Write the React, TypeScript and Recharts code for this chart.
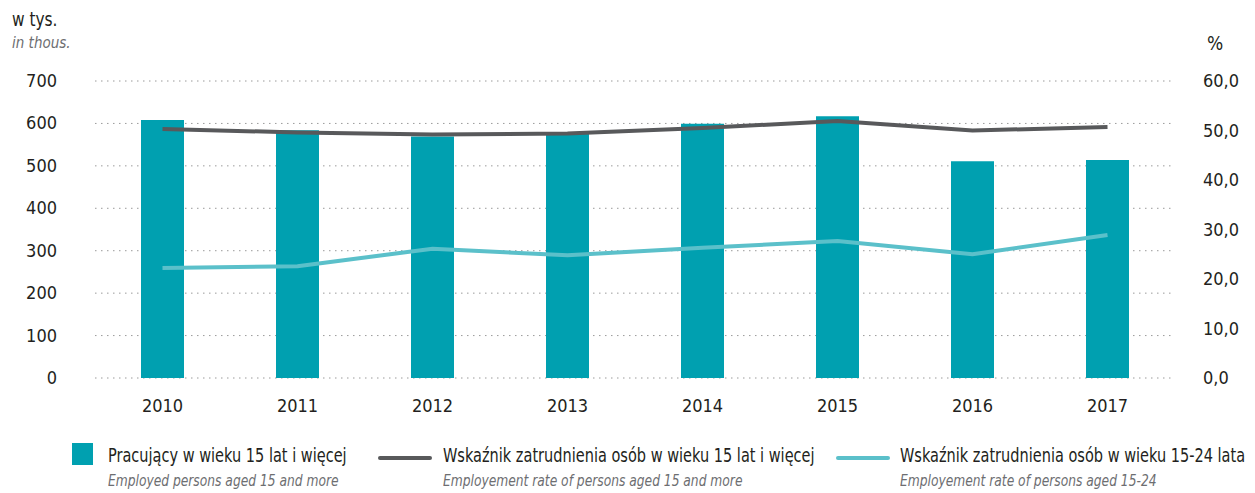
import { ComposedChart, Bar, Line, XAxis, YAxis, CartesianGrid } from 'recharts';

const years = ['2010', '2011', '2012', '2013', '2014', '2015', '2016', '2017'];
const employed = [608, 584, 569, 577, 599, 617, 511, 514];
const rate15plus = [50.3, 49.6, 49.2, 49.4, 50.5, 51.9, 50.0, 50.7];
const rate15to24 = [22.2, 22.6, 26.1, 24.8, 26.3, 27.7, 25.0, 28.9];
const leftTicks = [0, 100, 200, 300, 400, 500, 600, 700];
const rightTicks = [0, 10, 20, 30, 40, 50, 60];

const data = years.map((y, i) => ({
    year: y,
    employed: employed[i],
    rate15plus: rate15plus[i],
    rate15to24: rate15to24[i],
}));

const FONT = "'Liberation Sans Narrow', 'DejaVu Sans Condensed', sans-serif";
const TEAL = '#00a0b0';
const DARK = '#58595b';
const LIGHT = '#5bc0ca';

const LeftTick = ({ y, payload }: any) => (
    <text x={57} y={y + 6} textAnchor="end" fontSize={18} fill="#231f20" fontFamily={FONT}>
        {payload.value}
    </text>
);

const RightTick = ({ y, payload }: any) => (
    <text x={1203} y={y + 6} textAnchor="start" fontSize={18} fill="#231f20" fontFamily={FONT}>
        {payload.value.toFixed(1).replace('.', ',')}
    </text>
);

const BottomTick = ({ x, payload }: any) => (
    <text x={x} y={412} textAnchor="middle" fontSize={18} fill="#231f20" fontFamily={FONT}>
        {payload.value}
    </text>
);

const legendItems = [
    { kind: 'bar', color: TEAL, left: 72, textLeft: 108, pl: 'Pracujący w wieku 15 lat i więcej', en: 'Employed persons aged 15 and more' },
    { kind: 'line', color: DARK, left: 378, textLeft: 443, pl: 'Wskaźnik zatrudnienia osób w wieku 15 lat i więcej', en: 'Employement rate of persons aged 15 and more' },
    { kind: 'line', color: LIGHT, left: 836, textLeft: 900, pl: 'Wskaźnik zatrudnienia osób w wieku 15-24 lata', en: 'Employement rate of persons aged 15-24' },
];

export default function App() {
    return (
        <div style={{ position: 'absolute', left: 0, top: 0, width: 1255, height: 493, background: '#fff', fontFamily: FONT }}>
            <div style={{ position: 'absolute', left: 12, top: 8, fontSize: 19, color: '#231f20', transform: 'scaleX(0.9)', transformOrigin: 'left' }}>w tys.</div>
            <div style={{ position: 'absolute', left: 12, top: 34, fontSize: 15, color: '#6d6e71', fontStyle: 'italic' }}>in thous.</div>
            <div style={{ position: 'absolute', left: 1207, top: 32, fontSize: 19, color: '#231f20' }}>%</div>
            <ComposedChart
                width={1255}
                height={420}
                data={data}
                margin={{ top: 81, right: 0, bottom: 0, left: 0 }}
                barCategoryGap={0}
            >
                <CartesianGrid vertical={false} stroke="#9a9a9a" strokeDasharray="1.5 4.5" yAxisId="left" />
                <XAxis dataKey="year" axisLine={false} tickLine={false} height={42} tick={<BottomTick />} interval={0} />
                <YAxis yAxisId="left" orientation="left" width={95} domain={[0, 700]} ticks={leftTicks} axisLine={false} tickLine={false} tick={<LeftTick />} />
                <YAxis yAxisId="right" orientation="right" width={80} domain={[0, 60]} ticks={rightTicks} axisLine={false} tickLine={false} tick={<RightTick />} />
                <Bar yAxisId="left" dataKey="employed" fill={TEAL} barSize={43} isAnimationActive={false} />
                <Line yAxisId="right" dataKey="rate15plus" stroke={DARK} strokeWidth={4} dot={false} type="linear" isAnimationActive={false} />
                <Line yAxisId="right" dataKey="rate15to24" stroke={LIGHT} strokeWidth={4} dot={false} type="linear" isAnimationActive={false} />
            </ComposedChart>
            {legendItems.map((it, i) => (
                <div key={i}>
                    {it.kind === 'bar' ? (
                        <div style={{ position: 'absolute', left: it.left, top: 443, width: 21, height: 22, background: it.color }} />
                    ) : (
                        <div style={{ position: 'absolute', left: it.left, top: 456, width: 54, height: 4, borderRadius: 2, background: it.color }} />
                    )}
                    <div style={{ position: 'absolute', left: it.textLeft, top: 444, fontSize: 19, color: '#231f20', whiteSpace: 'nowrap', transform: 'scaleX(0.85)', transformOrigin: 'left' }}>{it.pl}</div>
                    <div style={{ position: 'absolute', left: it.textLeft, top: 472, fontSize: 15, color: '#6d6e71', fontStyle: 'italic', whiteSpace: 'nowrap', transform: 'scaleX(0.91)', transformOrigin: 'left' }}>{it.en}</div>
                </div>
            ))}
        </div>
    );
}
